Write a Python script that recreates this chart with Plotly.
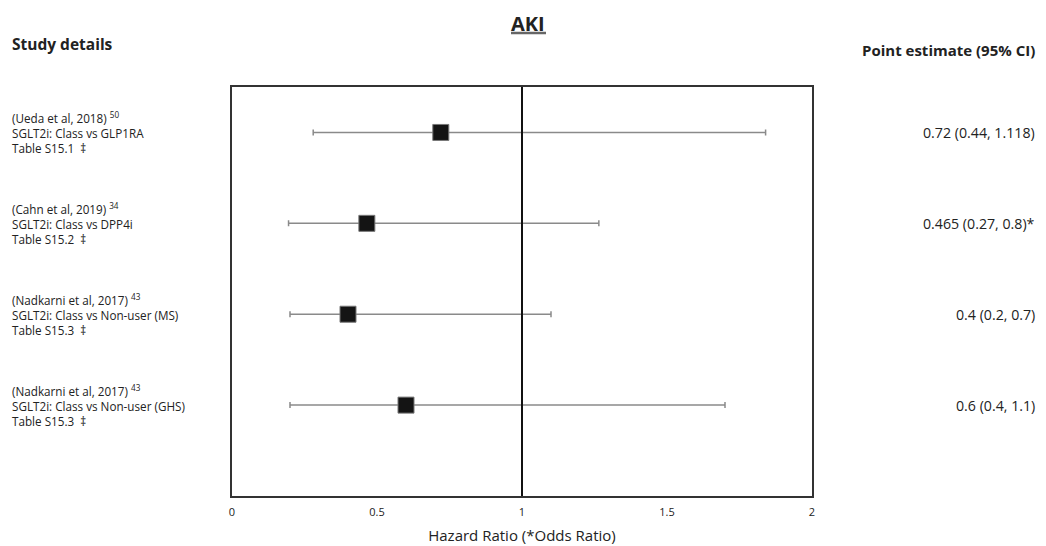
import plotly.graph_objects as go

# ---- data ----
study_refs = ["(Ueda et al, 2018) <sup>50</sup>",
              "(Cahn et al, 2019) <sup>34</sup>",
              "(Nadkarni et al, 2017) <sup>43</sup>",
              "(Nadkarni et al, 2017) <sup>43</sup>"]
comparisons = ["SGLT2i: Class vs GLP1RA",
               "SGLT2i: Class vs DPP4i",
               "SGLT2i: Class vs Non-user (MS)",
               "SGLT2i: Class vs Non-user (GHS)"]
tables = ["Table S15.1  ‡", "Table S15.2  ‡", "Table S15.3  ‡", "Table S15.3  ‡"]
estimates = [0.72, 0.465, 0.4, 0.6]
ci_low = [0.28, 0.195, 0.2, 0.2]      # as drawn in the figure
ci_high = [1.84, 1.265, 1.10, 1.70]   # as drawn in the figure
est_text = ["0.72 (0.44, 1.118)", "0.465 (0.27, 0.8)*", "0.4 (0.2, 0.7)", "0.6 (0.4, 1.1)"]
row_pos = [4, 3, 2, 1]
x_ticks = [0, 0.5, 1, 1.5, 2]
x_tick_labels = ["0", "0.5", "1", "1.5", "2"]

FONT = "'Open Sans', Lato, sans-serif"
TXT = "#222"

# page is rendered with an 8px body margin
W, H = 1038, 538
ML, MR, MT, MB = 224, 234, 79, 50
PLOT_W = W - ML - MR   # 580
PLOT_H = H - MT - MB   # 409
OFF = 8


def px_x(page_x):
    return (page_x - OFF - ML) / PLOT_W


def px_y(page_y):
    return 1 - (page_y - OFF - MT) / PLOT_H


fig = go.Figure()
fig.add_trace(go.Scatter(
    x=estimates, y=row_pos, mode="markers",
    marker=dict(symbol="square", size=16, color="#141414",
                line=dict(color="#777", width=1)),
    error_x=dict(type="data", symmetric=False,
                 array=[h - e for h, e in zip(ci_high, estimates)],
                 arrayminus=[e - l for e, l in zip(estimates, ci_low)],
                 color="#8a8a8a", thickness=1.5, width=3),
    showlegend=False, hoverinfo="skip"))

# reference line at 1
fig.add_shape(type="line", x0=1, x1=1, y0=0, y1=4.5, xref="x", yref="y",
              line=dict(color="#111", width=2))

# left study labels
for r, s, c, t in zip(row_pos, study_refs, comparisons, tables):
    fig.add_annotation(x=px_x(10), xref="paper", y=r, yref="y",
                       text=f"{s}<br>{c}<br>{t}", showarrow=False,
                       xanchor="left", yanchor="middle", align="left",
                       font=dict(family=FONT, size=11.7, color=TXT))

# right estimates
for r, txt in zip(row_pos, est_text):
    fig.add_annotation(x=px_x(1037), xref="paper", y=r, yref="y", text=txt,
                       showarrow=False, xanchor="right", yanchor="middle",
                       align="right", font=dict(family=FONT, size=14.2, color=TXT))

# headers
fig.add_annotation(x=px_x(10), xref="paper", y=px_y(44), yref="paper",
                   yanchor="middle", text="<b>Study details</b>", showarrow=False,
                   xanchor="left", font=dict(family=FONT, size=15.5, color=TXT))
fig.add_annotation(x=px_x(1037), xref="paper", y=px_y(50), yref="paper",
                   yanchor="middle", text="<b>Point estimate (95% CI)</b>",
                   showarrow=False, xanchor="right",
                   font=dict(family=FONT, size=15, color=TXT))
fig.add_annotation(x=px_x(528), xref="paper", y=px_y(8.5), yref="paper",
                   yanchor="top", text="<b>AKI</b>", showarrow=False,
                   xanchor="center", font=dict(family=FONT, size=20, color=TXT))
# title underline
fig.add_shape(type="line", xref="paper", yref="paper",
              x0=px_x(511), x1=px_x(546), y0=px_y(33), y1=px_y(33),
              line=dict(color="#666", width=2.5))

fig.update_layout(
    width=W, height=H,
    margin=dict(l=ML, r=MR, t=MT, b=MB),
    paper_bgcolor="white", plot_bgcolor="white",
    xaxis=dict(range=[0, 2], tickvals=x_ticks, ticktext=x_tick_labels,
               showgrid=False, zeroline=False, showline=True, mirror=True,
               linecolor="#333", linewidth=1.5,
               ticks="outside", ticklen=5, tickcolor="rgba(0,0,0,0)",
               tickfont=dict(family=FONT, size=11, color=TXT),
               automargin=False,
               title=dict(text="Hazard Ratio (*Odds Ratio)", standoff=13,
                          font=dict(family=FONT, size=15, color=TXT))),
    yaxis=dict(range=[0, 4.5], showgrid=False, zeroline=False, showline=True,
               mirror=True, linecolor="#333", linewidth=1.5,
               showticklabels=False, ticks=""),
)

fig.write_html("out.html")
